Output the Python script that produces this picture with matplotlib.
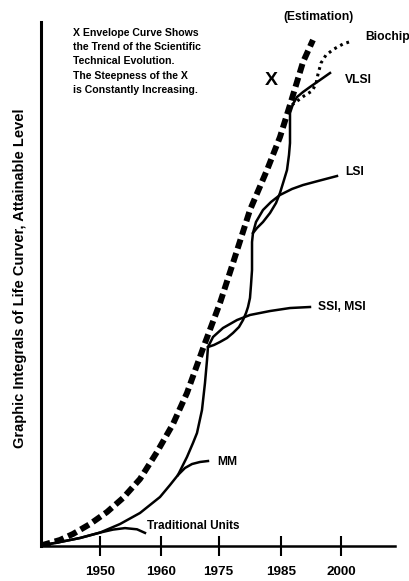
import numpy as np
import matplotlib.pyplot as plt

plt.rcParams['font.family'] = ['Liberation Sans', 'DejaVu Sans']
plt.rcParams['font.weight'] = 'bold'

# x: time slots (origin = 0, one slot per tick), y: attainable level
tick_pos = [0.98, 2.0, 2.96, 4.0, 5.0]
tick_labels = ['1950', '1960', '1975', '1985', '2000']

# X envelope curve
env_x = [0, 0.317, 0.533, 0.817, 1.1, 1.367, 1.65, 1.933, 2.2, 2.433, 2.733, 2.983,
         3.2, 3.483, 3.767, 3.983, 4.15, 4.367, 4.533]
env_y = [0, 0.092, 0.192, 0.358, 0.558, 0.792, 1.108, 1.558, 2.025, 2.542, 3.375, 4.042,
         4.708, 5.592, 6.258, 6.808, 7.342, 8.058, 8.425]

# life curves of each technology
trad_x = [0, 0.317, 0.65, 0.983, 1.2, 1.4, 1.6, 1.733]
trad_y = [0, 0.058, 0.125, 0.215, 0.265, 0.29, 0.27, 0.21]

mm_x = [0, 0.317, 0.65, 0.983, 1.317, 1.65, 1.983, 2.15, 2.283, 2.4, 2.517, 2.65, 2.783]
mm_y = [0, 0.058, 0.125, 0.215, 0.358, 0.542, 0.808, 1.008, 1.175, 1.292, 1.358, 1.392, 1.408]

ssi_x = [2.283, 2.433, 2.533, 2.6, 2.683, 2.733, 2.767, 2.783, 2.867, 3.033, 3.267, 3.483,
         3.817, 4.15, 4.483]
ssi_y = [1.175, 1.475, 1.708, 1.875, 2.258, 2.708, 3.092, 3.308, 3.475, 3.625, 3.758, 3.842,
         3.908, 3.958, 3.975]

lsi_x = [2.783, 2.883, 2.983, 3.1, 3.2, 3.3, 3.367, 3.417, 3.45, 3.483, 3.5, 3.517, 3.517,
         3.517, 3.533, 3.583, 3.7, 3.833, 3.983, 4.183, 4.367, 4.617, 4.933]
lsi_y = [3.308, 3.342, 3.392, 3.458, 3.542, 3.642, 3.758, 3.875, 3.975, 4.125, 4.342, 4.592,
         4.842, 5.058, 5.208, 5.392, 5.592, 5.725, 5.842, 5.942, 6.008, 6.075, 6.158]

vlsi_x = [3.533, 3.6, 3.7, 3.817, 3.917, 3.983, 4.05, 4.1, 4.133, 4.15, 4.15, 4.15, 4.2,
          4.267, 4.367, 4.483, 4.65, 4.817]
vlsi_y = [5.208, 5.292, 5.392, 5.542, 5.708, 5.875, 6.092, 6.258, 6.508, 6.708, 6.958, 7.208,
          7.358, 7.475, 7.558, 7.642, 7.758, 7.875]

bio_x = [4.183, 4.383, 4.517, 4.583, 4.617, 4.667, 4.75, 4.883, 5.033, 5.183]
bio_y = [7.342, 7.492, 7.575, 7.692, 7.858, 8.042, 8.175, 8.275, 8.358, 8.408]

fig = plt.figure(figsize=(4.1, 5.81), dpi=100)
ax = fig.add_axes([41 / 410, 35.5 / 581, 354 / 410, 523.5 / 581])
ax.set_xlim(0, 5.9)
ax.set_ylim(0, 8.725)

ax.plot(env_x, env_y, color='black', lw=4.3, ls=(0, (1.6, 0.8)), solid_capstyle='butt')
for xs, ys in [(trad_x, trad_y), (mm_x, mm_y), (ssi_x, ssi_y), (lsi_x, lsi_y), (vlsi_x, vlsi_y)]:
    ax.plot(xs, ys, color='black', lw=1.8, solid_joinstyle='round')
ax.plot(bio_x, bio_y, color='black', lw=2.2, ls=(0, (0.9, 1.3)))

# labels
ax.text(4.617, 8.808, '(Estimation)', fontsize=8.7, ha='center', va='center')
ax.text(5.4, 8.475, 'Biochip', fontsize=8.7, ha='left', va='center')
ax.text(3.833, 7.758, 'X', fontsize=14, ha='center', va='center')
ax.text(5.067, 7.758, 'VLSI', fontsize=8.7, ha='left', va='center')
ax.text(5.067, 6.225, 'LSI', fontsize=8.7, ha='left', va='center')
ax.text(4.617, 3.975, 'SSI, MSI', fontsize=8.7, ha='left', va='center')
ax.text(2.933, 1.392, 'MM', fontsize=8.7, ha='left', va='center')
ax.text(1.767, 0.325, 'Traditional Units', fontsize=8.5, ha='left', va='center')
ax.text(0.533, 8.067,
        'X Envelope Curve Shows\nthe Trend of the Scientific\nTechnical Evolution.\n'
        'The Steepness of the X\nis Constantly Increasing.',
        fontsize=7.6, ha='left', va='center', linespacing=1.55)

fig.text(20 / 410, 1 - 278 / 581, 'Graphic Integrals of Life Curver, Attainable Level',
         rotation=90, ha='center', va='center', fontsize=10.5)

ax.spines['top'].set_visible(False)
ax.spines['right'].set_visible(False)
ax.spines['left'].set_linewidth(2.2)
ax.spines['bottom'].set_linewidth(1.8)
ax.set_yticks([])
ax.set_xticks(tick_pos)
ax.set_xticklabels(tick_labels, fontsize=9.7, fontweight='bold')
ax.tick_params(axis='x', direction='inout', length=15, width=1.5, pad=7.3)

fig.savefig('out.png', dpi=100)
